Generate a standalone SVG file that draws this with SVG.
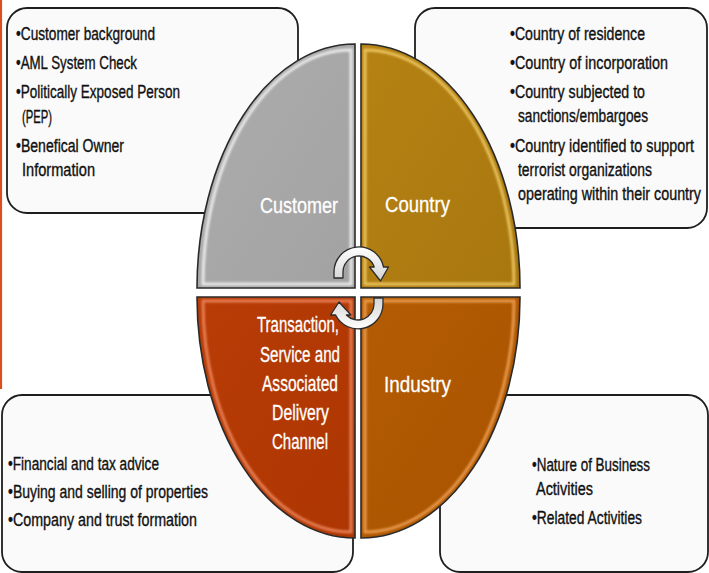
<svg xmlns="http://www.w3.org/2000/svg" width="709" height="573" viewBox="0 0 709 573">
  <defs>
    <style>
      .box { fill: #fafafa; stroke: #1e1e1e; stroke-width: 1.8; }
      .quad { stroke: #2a2a2a; stroke-width: 1.6; }
      .bevel { fill: none; stroke-width: 3; opacity: 0.85; filter: url(#soft); }
      .txt { font-family: "Liberation Sans Narrow", "Liberation Sans", Arial, sans-serif; font-size: 17.5px; fill: #111; stroke: #111; stroke-width: 0.35; }
      .lbl { font-family: "Liberation Sans Narrow", "Liberation Sans", Arial, sans-serif; font-size: 22px; fill: #ffffff; stroke: #ffffff; stroke-width: 0.3; }
      .arrow { fill: url(#arrowFill); stroke: #2b2b2b; stroke-width: 1.3; stroke-linejoin: round; }
    </style>
    <filter id="soft" x="-5%" y="-5%" width="110%" height="110%">
      <feGaussianBlur stdDeviation="0.8"/>
    </filter>
    <linearGradient id="arrowFill" x1="0" y1="0" x2="0" y2="1">
      <stop offset="0" stop-color="#ffffff"/>
      <stop offset="1" stop-color="#d4d4d4"/>
    </linearGradient>
    <linearGradient id="gCust" x1="0" y1="0" x2="1" y2="1">
      <stop offset="0" stop-color="#adadad"/>
      <stop offset="1" stop-color="#a2a2a2"/>
    </linearGradient>
    <linearGradient id="gCtry" x1="0" y1="0" x2="1" y2="1">
      <stop offset="0" stop-color="#b58213"/>
      <stop offset="1" stop-color="#a8770f"/>
    </linearGradient>
    <linearGradient id="gTran" x1="0" y1="0" x2="1" y2="1">
      <stop offset="0" stop-color="#b83c06"/>
      <stop offset="1" stop-color="#ad3602"/>
    </linearGradient>
    <linearGradient id="gInd" x1="0" y1="0" x2="1" y2="1">
      <stop offset="0" stop-color="#b45c04"/>
      <stop offset="1" stop-color="#a95300"/>
    </linearGradient>
  </defs>

  <rect x="0" y="0" width="709" height="573" fill="#ffffff"/>
  <!-- accent rule on the left edge -->
  <line x1="1" y1="0" x2="1" y2="389" stroke="#d9501e" stroke-width="2.2"/>

  <!-- detail boxes -->
  <g id="box-customer">
    <rect class="box" x="7" y="8" width="291" height="205" rx="20"/>
    <text class="txt" x="16" y="40" textLength="139" lengthAdjust="spacingAndGlyphs">•Customer background</text>
    <text class="txt" x="16" y="69" textLength="121" lengthAdjust="spacingAndGlyphs">•AML System Check</text>
    <text class="txt" x="16" y="98" textLength="164" lengthAdjust="spacingAndGlyphs">•Politically Exposed Person</text>
    <text class="txt" x="22" y="123" textLength="30" lengthAdjust="spacingAndGlyphs">(PEP)</text>
    <text class="txt" x="16" y="152" textLength="108" lengthAdjust="spacingAndGlyphs">•Benefical Owner</text>
    <text class="txt" x="22" y="176" textLength="73" lengthAdjust="spacingAndGlyphs">Information</text>
  </g>

  <g id="box-country">
    <rect class="box" x="415" y="8" width="292" height="220" rx="20"/>
    <text class="txt" x="510" y="40" textLength="135" lengthAdjust="spacingAndGlyphs">•Country of residence</text>
    <text class="txt" x="510" y="69" textLength="158" lengthAdjust="spacingAndGlyphs">•Country of incorporation</text>
    <text class="txt" x="510" y="98" textLength="135" lengthAdjust="spacingAndGlyphs">•Country subjected to</text>
    <text class="txt" x="518" y="122" textLength="130" lengthAdjust="spacingAndGlyphs">sanctions/embargoes</text>
    <text class="txt" x="510" y="152" textLength="184" lengthAdjust="spacingAndGlyphs">•Country identified to support</text>
    <text class="txt" x="518" y="176" textLength="134" lengthAdjust="spacingAndGlyphs">terrorist organizations</text>
    <text class="txt" x="518" y="200" textLength="183" lengthAdjust="spacingAndGlyphs">operating within their country</text>
  </g>

  <g id="box-transaction">
    <rect class="box" x="2" y="395" width="351" height="177" rx="20"/>
    <text class="txt" x="8" y="470" textLength="151" lengthAdjust="spacingAndGlyphs">•Financial and tax advice</text>
    <text class="txt" x="8" y="498" textLength="200" lengthAdjust="spacingAndGlyphs">•Buying and selling of properties</text>
    <text class="txt" x="8" y="526" textLength="189" lengthAdjust="spacingAndGlyphs">•Company and trust formation</text>
  </g>

  <g id="box-industry">
    <rect class="box" x="440" y="395" width="268" height="177" rx="20"/>
    <text class="txt" x="532" y="471" textLength="118" lengthAdjust="spacingAndGlyphs">•Nature of Business</text>
    <text class="txt" x="536" y="495" textLength="57" lengthAdjust="spacingAndGlyphs">Activities</text>
    <text class="txt" x="532" y="524" textLength="110" lengthAdjust="spacingAndGlyphs">•Related Activities</text>
  </g>

  <!-- four quadrants of the risk wheel -->
  <g id="q-customer">
    <path class="quad" fill="url(#gCust)" d="M355 44 L355 288 L197 288 A158 244 0 0 1 355 44 Z"/>
    <path class="bevel" stroke="#f4f4f4" d="M351 50 L351 284 L203 284 A148 234 0 0 1 351 50 Z"/>
    <text class="lbl" x="260" y="213" textLength="78" lengthAdjust="spacingAndGlyphs">Customer</text>
  </g>

  <g id="q-country">
    <path class="quad" fill="url(#gCtry)" d="M361 44 A159 244 0 0 1 520 288 L361 288 Z"/>
    <path class="bevel" stroke="#f3cf6a" d="M365 50 A149 234 0 0 1 514 284 L365 284 Z"/>
    <text class="lbl" x="385" y="212" textLength="65" lengthAdjust="spacingAndGlyphs">Country</text>
  </g>

  <g id="q-transaction">
    <path class="quad" fill="url(#gTran)" d="M197 297 L355 297 L355 538 A158 241 0 0 1 197 297 Z"/>
    <path class="bevel" stroke="#f08a62" d="M203 301 L351 301 L351 532 A148 231 0 0 1 203 301 Z"/>
    <text class="lbl" x="257" y="332" textLength="82" lengthAdjust="spacingAndGlyphs">Transaction,</text>
    <text class="lbl" x="260" y="362" textLength="80" lengthAdjust="spacingAndGlyphs">Service and</text>
    <text class="lbl" x="262" y="391" textLength="76" lengthAdjust="spacingAndGlyphs">Associated</text>
    <text class="lbl" x="272" y="420" textLength="57" lengthAdjust="spacingAndGlyphs">Delivery</text>
    <text class="lbl" x="272" y="449" textLength="56" lengthAdjust="spacingAndGlyphs">Channel</text>
  </g>

  <g id="q-industry">
    <path class="quad" fill="url(#gInd)" d="M361 297 L520 297 A159 241 0 0 1 361 538 Z"/>
    <path class="bevel" stroke="#f2a55a" d="M365 301 L514 301 A149 231 0 0 1 365 532 Z"/>
    <text class="lbl" x="384" y="392" textLength="67" lengthAdjust="spacingAndGlyphs">Industry</text>
  </g>

  <!-- circular arrows in the middle -->
  <g id="connectors">
    <path class="arrow" transform="translate(359 272)"
          d="M-25 6 L-25 0 A25 25 0 0 1 24.5 -5 L29.5 -5 L21.5 9 L10.5 -5 L15.2 -5 A16 16 0 0 0 -16 0 L-16 6 Z"/>
    <path class="arrow" transform="translate(358 304) rotate(180)"
          d="M-25 6 L-25 0 A25 25 0 0 1 22.4 -11 L27.4 -11 L19 2 L7.1 -11 L11.6 -11 A16 16 0 0 0 -16 0 L-16 6 Z"/>
  </g>
</svg>
